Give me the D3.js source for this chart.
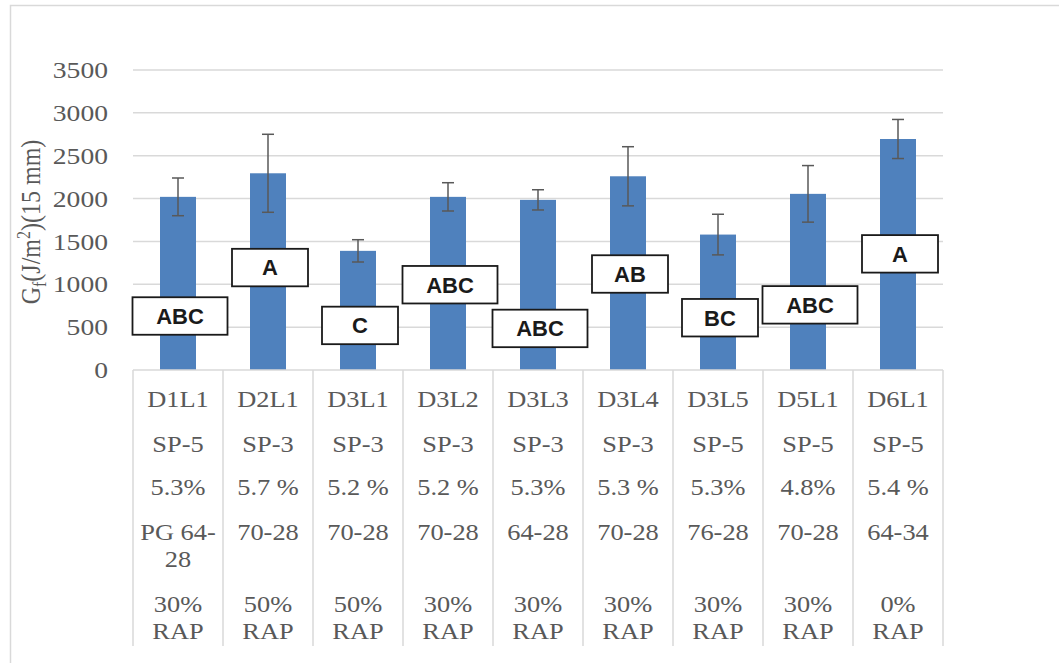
<!DOCTYPE html>
<html>
<head>
<meta charset="utf-8">
<script src="https://cdn.jsdelivr.net/npm/d3@7/dist/d3.min.js"></script>
<style>
  html, body { margin: 0; padding: 0; background: #fff; }
  svg { display: block; }
</style>
</head>
<body>
<svg id="chart" width="1059" height="663"></svg>
<script>
// Mixture IDs and their descriptors
const categories = ["D1L1", "D2L1", "D3L1", "D3L2", "D3L3", "D3L4", "D3L5", "D5L1", "D6L1"];
const binderType = ["SP-5", "SP-3", "SP-3", "SP-3", "SP-3", "SP-3", "SP-5", "SP-5", "SP-5"];
const binderContent = ["5.3%", "5.7 %", "5.2 %", "5.2 %", "5.3%", "5.3 %", "5.3%", "4.8%", "5.4 %"];
const binderGrade = ["PG 64-\n28", "70-28", "70-28", "70-28", "64-28", "70-28", "76-28", "70-28", "64-34"];
const rapPercent = [30, 50, 50, 30, 30, 30, 30, 30, 0];

// Fracture energy (mean and standard deviation)
const meanGf = [2020, 2295, 1390, 2020, 1985, 2260, 1580, 2055, 2695];
const stdGf = [220, 455, 130, 165, 118, 345, 237, 330, 228];

// Statistical grouping letters and the level at which each is placed
const groupLetters = ["ABC", "A", "C", "ABC", "ABC", "AB", "BC", "ABC", "A"];
const groupLevel = [630, 1195, 520, 995, 485, 1120, 610, 760, 1355];

const yTicks = [0, 500, 1000, 1500, 2000, 2500, 3000, 3500];

const svg = d3.select("#chart");
const plot = { left: 133, right: 943, top: 70, bottom: 370 };
const tableBottom = 646;
const textGray = "#595959";
const gridGray = "#d9d9d9";
const serif = "'Liberation Serif', 'Times New Roman', serif";

// Outer chart frame
svg.append("rect")
  .attr("x", 10.5).attr("y", 5.5)
  .attr("width", 1070).attr("height", 680)
  .attr("fill", "none").attr("stroke", gridGray).attr("stroke-width", 1.5);

const x = d3.scaleBand().domain(categories).range([plot.left, plot.right]).padding(0);
const y = d3.scaleLinear().domain([0, 3500]).range([plot.bottom, plot.top]);

// Horizontal gridlines
svg.append("g").selectAll("line").data(yTicks.filter(t => t > 0)).join("line")
  .attr("x1", plot.left).attr("x2", plot.right)
  .attr("y1", d => y(d)).attr("y2", d => y(d))
  .attr("stroke", gridGray).attr("stroke-width", 1.5);

// Y-axis tick labels (drawn through d3.axisLeft, with the domain line removed)
const yAxis = svg.append("g")
  .attr("transform", `translate(${plot.left - 25},0)`)
  .call(d3.axisLeft(y).tickValues(yTicks).tickFormat(d3.format("d")).tickSize(0).tickPadding(0));
yAxis.select(".domain").remove();
yAxis.selectAll(".tick text")
  .style("font-family", serif).style("font-size", "23px").attr("fill", textGray)
  .attr("dy", "0.33em")
  .attr("transform", "scale(1.2,1)")
  .attr("x", 0);

// Y-axis title
const title = svg.append("text")
  .attr("transform", "translate(40,222) rotate(-90) scale(1,1.13)")
  .attr("text-anchor", "middle")
  .style("font-family", serif).style("font-size", "24px").attr("fill", textGray);
title.append("tspan").text("G");
title.append("tspan").style("font-size", "16px").attr("dy", 5).text("f");
title.append("tspan").attr("dy", -5).text("(J/m");
title.append("tspan").style("font-size", "16px").attr("dy", -9).text("2");
title.append("tspan").attr("dy", 9).text(")(15 mm)");

// Bars
const barW = x.bandwidth() * 0.4;
const cx = d => x(d) + x.bandwidth() / 2;
svg.append("g").selectAll("rect").data(categories).join("rect")
  .attr("x", d => cx(d) - barW / 2)
  .attr("width", barW)
  .attr("y", (d, i) => y(meanGf[i]))
  .attr("height", (d, i) => y(0) - y(meanGf[i]))
  .attr("fill", "#4f81bd");

// Error bars
const err = svg.append("g").attr("stroke", "#595959").attr("stroke-width", 1.5);
categories.forEach((c, i) => {
  const top = y(meanGf[i] + stdGf[i]);
  const bot = y(meanGf[i] - stdGf[i]);
  err.append("line").attr("x1", cx(c)).attr("x2", cx(c)).attr("y1", top).attr("y2", bot);
  err.append("line").attr("x1", cx(c) - 6).attr("x2", cx(c) + 6).attr("y1", top).attr("y2", top);
  err.append("line").attr("x1", cx(c) - 6).attr("x2", cx(c) + 6).attr("y1", bot).attr("y2", bot);
});

// Axis baseline and the category table
svg.append("line")
  .attr("x1", plot.left).attr("x2", plot.right)
  .attr("y1", plot.bottom).attr("y2", plot.bottom)
  .attr("stroke", gridGray).attr("stroke-width", 1.5);
const bounds = categories.map(c => x(c)).concat([plot.right]);
svg.append("g").selectAll("line").data(bounds).join("line")
  .attr("x1", d => d).attr("x2", d => d)
  .attr("y1", plot.bottom).attr("y2", tableBottom)
  .attr("stroke", gridGray).attr("stroke-width", 1.5);

// Category table rows: each entry is a list of lines, first-line baseline
const rows = [
  { lines: categories.map(c => [c]), y0: 407 },
  { lines: binderType.map(s => [s]), y0: 452 },
  { lines: binderContent.map(s => [s]), y0: 495 },
  { lines: binderGrade.map(s => s.split("\n")), y0: 540 },
  { lines: rapPercent.map(v => [`${v}%`, "RAP"]), y0: 612 }
];
const lineH = 27;
const tbl = svg.append("g");
rows.forEach(row => {
  categories.forEach((c, i) => {
    row.lines[i].forEach((t, k) => {
      tbl.append("text")
        .attr("transform", `translate(${cx(c)},${row.y0 + k * lineH}) scale(1.1,1)`)
        .attr("text-anchor", "middle")
        .style("font-family", serif).style("font-size", "24px").attr("fill", textGray)
        .text(t);
    });
  });
});

// Grouping-letter boxes
const boxH = 37.5;
const lab = svg.append("g");
categories.forEach((c, i) => {
  const t = groupLetters[i];
  const w = t.length >= 3 ? 95 : 76;
  const bx = cx(c) + 2;
  const by = y(groupLevel[i]);
  lab.append("rect")
    .attr("x", bx - w / 2).attr("y", by - boxH / 2)
    .attr("width", w).attr("height", boxH)
    .attr("fill", "#fff").attr("stroke", "#1a1a1a").attr("stroke-width", 1.8);
  lab.append("text")
    .attr("x", bx).attr("y", by).attr("dy", "0.36em")
    .attr("text-anchor", "middle")
    .style("font-family", "'Liberation Sans', Arial, sans-serif")
    .style("font-weight", "bold").style("font-size", "22px").attr("fill", "#1a1a1a")
    .text(t);
});
</script>
</body>
</html>
